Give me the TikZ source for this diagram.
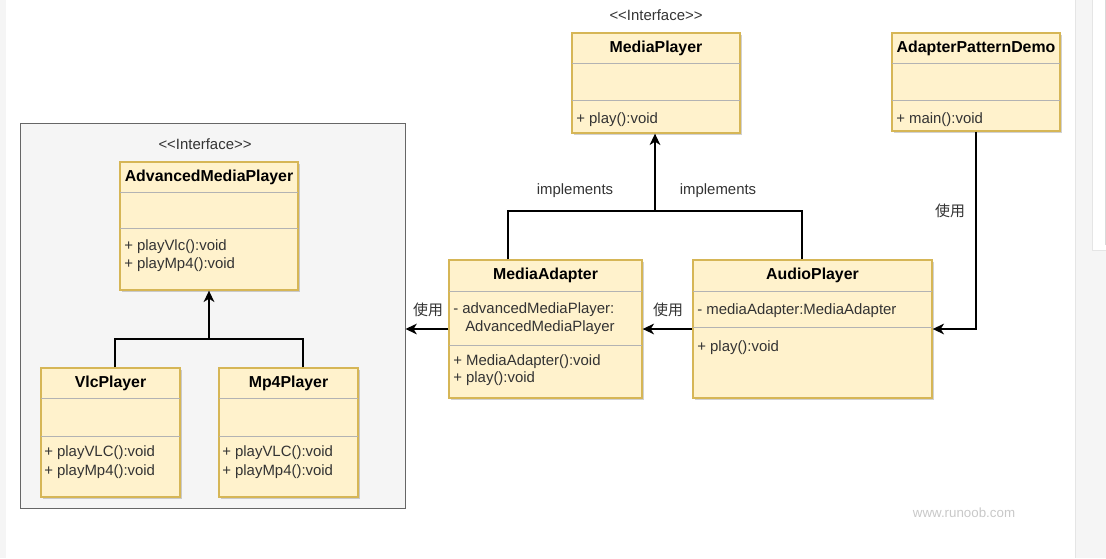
\documentclass[tikz,border=0pt]{standalone}
\usepackage{fontspec}
\setmainfont{Liberation Sans}
\newfontfamily\cjkfont{Noto Sans CJK SC}
\usetikzlibrary{arrows.meta,fit,shadows}

\definecolor{boxfill}{HTML}{FFF2CC}
\definecolor{boxline}{HTML}{D6B656}
\definecolor{divline}{HTML}{B3B3B3}
\definecolor{txt}{HTML}{333333}
\definecolor{panel}{HTML}{F5F5F5}
\definecolor{panelline}{HTML}{666666}
\definecolor{wmark}{HTML}{C8C8C8}

% stereotype text, with the angle brackets kept apart
\newcommand{\ifc}{<\kern0pt<Interface>\kern0pt>}

\begin{document}
\begin{tikzpicture}[x=0.75pt,y=-0.75pt,
  font=\fontsize{11.2}{13.5}\selectfont,
  classbox/.style={draw=boxline, fill=boxfill, line width=1pt, inner sep=0pt,
    drop shadow={shadow xshift=1.5pt, shadow yshift=-1.5pt, opacity=0.3, fill=black!60}},
  divider/.style={draw=divline, line width=0.75pt},
  title/.style={font=\fontsize{11.9}{14}\selectfont\bfseries, text=black, anchor=center, inner sep=0pt},
  member/.style={text=txt, anchor=west, inner sep=0pt},
  stereo/.style={text=txt, anchor=center, inner sep=0pt},
  conn/.style={draw=black, line width=1.2pt, -{Stealth[length=8.5pt,width=8pt,inset=2.5pt]}},
  plain/.style={draw=black, line width=1.2pt},
  lbl/.style={text=txt, inner sep=0pt, anchor=center},
  cjklbl/.style={text=txt, inner sep=0pt, anchor=center, font=\fontsize{11.2}{13.5}\cjkfont},
]
\useasboundingbox (0,0) rectangle (1106,558);

% page chrome
\fill[panel] (0,0) rectangle (6,558);
\fill[panel] (1075,0) rectangle (1106,558);
\draw[black!10, line width=0.5pt] (1075,0) -- (1075,558);
\filldraw[fill=white, draw=black!10, line width=0.5pt] (1092,-2) rectangle (1110,250);
\draw[black!15, line width=0.5pt] (1105,0) -- (1105,245);

% group of the advanced players
\node[draw=panelline, fill=panel, line width=0.75pt, inner sep=0pt, fit={(20,123) (405,508)}] (grp) {};

% MediaPlayer
\node[stereo] (mpst) at (656,15) {\ifc};
\node[classbox, fit={(572,33) (740,133)}] (mp) {};
\draw[divider] (572,63) -- (740,63);
\draw[divider] (572,100) -- (740,100);
\node[title] (mpt) at (656,48) {MediaPlayer};
\node[member] (mpm1) at (576,120) {+ play():void};

% AdapterPatternDemo
\node[classbox, fit={(892,33) (1060,131)}] (apd) {};
\draw[divider] (892,63) -- (1060,63);
\draw[divider] (892,100) -- (1060,100);
\node[title] (apdt) at (976,48) {AdapterPatternDemo};
\node[member] (apdm1) at (896,120) {+ main():void};

% AdvancedMediaPlayer
\node[stereo] (ampst) at (205,144) {\ifc};
\node[classbox, fit={(120,162) (298,290)}] (amp) {};
\draw[divider] (120,192) -- (298,192);
\draw[divider] (120,228) -- (298,228);
\node[title] (ampt) at (209,177) {AdvancedMediaPlayer};
\node[member] (ampm1) at (124,247) {+ playVlc():void};
\node[member] (ampm2) at (124,265) {+ playMp4():void};

% VlcPlayer
\node[classbox, fit={(41,368) (180,497)}] (vlc) {};
\draw[divider] (41,398) -- (180,398);
\draw[divider] (41,436) -- (180,436);
\node[title] (vlct) at (110.5,383) {VlcPlayer};
\node[member] (vlcm1) at (44,453) {+ playVLC():void};
\node[member] (vlcm2) at (44,472) {+ playMp4():void};

% Mp4Player
\node[classbox, fit={(219,368) (358,497)}] (mp4) {};
\draw[divider] (219,398) -- (358,398);
\draw[divider] (219,436) -- (358,436);
\node[title] (mp4t) at (288.5,383) {Mp4Player};
\node[member] (mp4m1) at (222,453) {+ playVLC():void};
\node[member] (mp4m2) at (222,472) {+ playMp4():void};

% MediaAdapter
\node[classbox, fit={(449,260) (642,398)}] (ma) {};
\draw[divider] (449,291) -- (642,291);
\draw[divider] (449,345) -- (642,345);
\node[title] (mat) at (545.5,275) {MediaAdapter};
\node[member] (maa1) at (453,310) {- advancedMediaPlayer:};
\node[member] (maa2) at (465,328) {AdvancedMediaPlayer};
\node[member] (mam1) at (453,362) {+ MediaAdapter():void};
\node[member] (mam2) at (453,379) {+ play():void};

% AudioPlayer
\node[classbox, fit={(693,260) (932,398)}] (ap) {};
\draw[divider] (693,291) -- (932,291);
\draw[divider] (693,327) -- (932,327);
\node[title] (apt) at (812.5,275) {AudioPlayer};
\node[member] (apa1) at (697,311) {- mediaAdapter:MediaAdapter};
\node[member] (apm1) at (697,348) {+ play():void};

% realisation of AdvancedMediaPlayer
\coordinate (ampjoin) at (209,339);
\draw[conn] ([xshift=3.4pt]vlc.north) |- (ampjoin) -- (amp.south);
\draw[plain] ([xshift=10.9pt]mp4.north) |- (ampjoin);

% realisation of MediaPlayer
\coordinate (mpjoin) at (655,211);
\draw[conn] ([xshift=-28.1pt]ma.north) |- (mpjoin) -- (mp.south -| mpjoin);
\draw[plain] ([xshift=-7.9pt]ap.north) |- (mpjoin);
\node[lbl] (impl1) at (575,191) {implements};
\node[lbl] (impl2) at (718,191) {implements};

% usage links
\draw[conn] (ma.west) -- (ma.west -| grp.east);
\draw[conn] (ap.west) -- (ma.east);
\draw[conn] (apd.south) |- (ap.east);
\node[cjklbl] (use1) at (428,310) {使用};
\node[cjklbl] (use2) at (668,310) {使用};
\node[cjklbl] (use3) at (950,211) {使用};

% watermark
\node[text=wmark, inner sep=0pt, font=\fontsize{10}{12}\selectfont] (wm) at (964,513) {www.runoob.com};
\end{tikzpicture}
\end{document}
